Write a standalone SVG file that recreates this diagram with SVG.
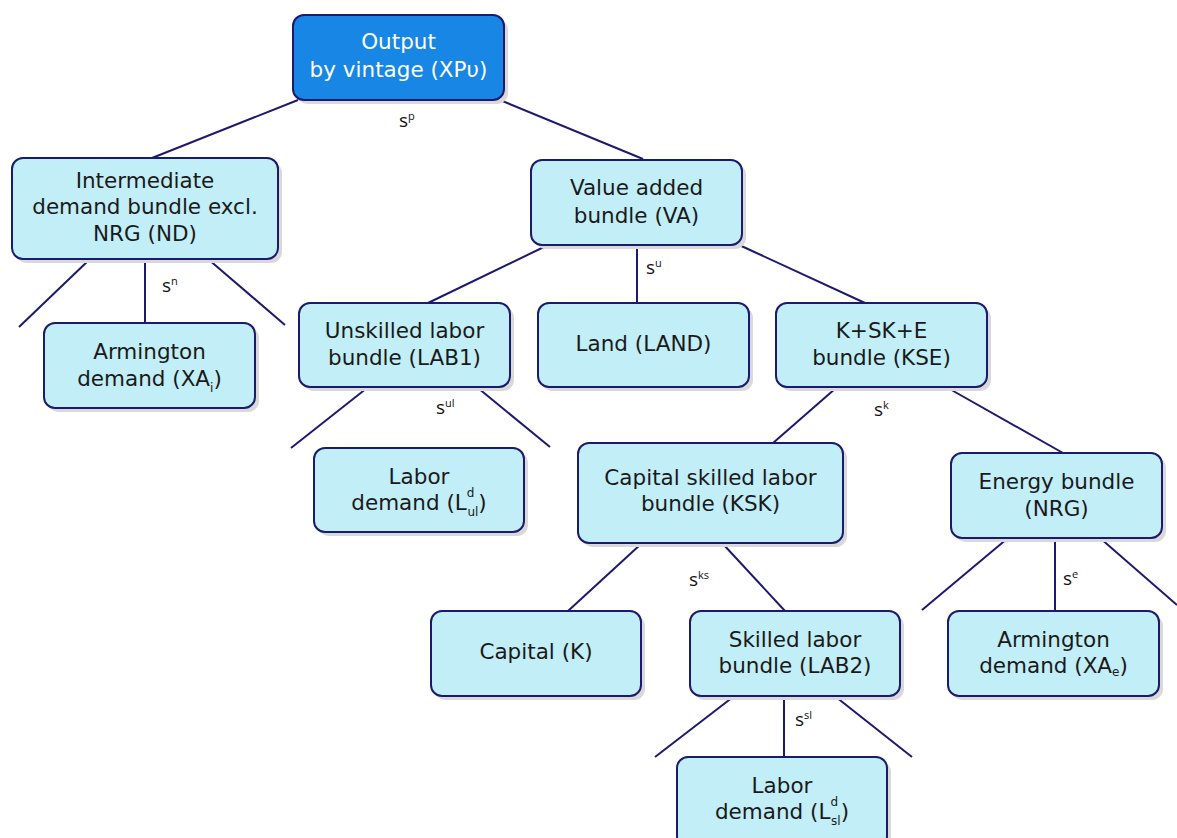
<svg xmlns="http://www.w3.org/2000/svg" width="1177" height="838" viewBox="0 0 1177 838">
<defs>
<style>
.box{fill:#c2eef7;stroke:#1c1a6e;stroke-width:2}
.top{fill:#1786e4;stroke:#1c1a6e;stroke-width:2}
.sh{fill:#d9d9d9}
.t{font-family:"DejaVu Sans",sans-serif;font-size:21.5px;fill:#1a1a1a;text-anchor:middle}
.tw{font-family:"DejaVu Sans",sans-serif;font-size:21.5px;fill:#ffffff;text-anchor:middle}
.sub{font-size:12px}
.s{font-family:"Open Sans","Noto Sans",sans-serif;font-size:19px;fill:#111}
.sup{font-size:11px}
.c line{stroke:#1c1a6e;stroke-width:2}
</style>
</defs>
<rect width="1177" height="838" fill="#ffffff"/>
<g class="c" id="connectors">
<line x1="298" y1="100" x2="152" y2="158"/>
<line x1="500" y1="100" x2="643" y2="159"/>
<line x1="90" y1="259" x2="19" y2="327"/>
<line x1="145" y1="259" x2="145" y2="323"/>
<line x1="208" y1="259" x2="285" y2="325"/>
<line x1="546" y1="246" x2="428" y2="303"/>
<line x1="637" y1="246" x2="637" y2="303"/>
<line x1="737" y1="244" x2="865" y2="303"/>
<line x1="367" y1="388" x2="291" y2="448"/>
<line x1="478" y1="388" x2="550" y2="447"/>
<line x1="836" y1="388" x2="773" y2="443"/>
<line x1="948" y1="388" x2="1063" y2="453"/>
<line x1="641" y1="544" x2="568" y2="611"/>
<line x1="723" y1="544" x2="785" y2="611"/>
<line x1="1008" y1="538" x2="922" y2="610"/>
<line x1="1055" y1="538" x2="1055" y2="611"/>
<line x1="1100" y1="538" x2="1177" y2="605"/>
<line x1="733" y1="697" x2="655" y2="757"/>
<line x1="784" y1="697" x2="784" y2="757"/>
<line x1="836" y1="697" x2="912" y2="757"/>
</g>
<g id="labels">
<text class="s" x="399" y="127">s<tspan class="sup" dy="-7">p</tspan></text>
<text class="s" x="162" y="292">s<tspan class="sup" dy="-7">n</tspan></text>
<text class="s" x="646" y="274">s<tspan class="sup" dy="-7">u</tspan></text>
<text class="s" x="436" y="414">s<tspan class="sup" dy="-7">ul</tspan></text>
<text class="s" x="874" y="416">s<tspan class="sup" dy="-7">k</tspan></text>
<text class="s" x="689" y="586">s<tspan class="sup" dy="-7">ks</tspan></text>
<text class="s" x="1063" y="585">s<tspan class="sup" dy="-7">e</tspan></text>
<text class="s" x="795" y="726">s<tspan class="sup" dy="-7">sl</tspan></text>
</g>
<g id="n-output">
<rect class="sh" x="297" y="19" width="211" height="85" rx="11"/>
<rect class="top" x="293" y="15" width="211" height="85" rx="11"/>
<text class="tw" x="398.5" y="49">Output</text>
<text class="tw" x="398.5" y="77">by vintage (XPυ)</text>
</g>
<g id="n-nd">
<rect class="sh" x="16" y="162" width="266" height="101" rx="11"/>
<rect class="box" x="12" y="158" width="266" height="101" rx="11"/>
<text class="t" x="145" y="188">Intermediate</text>
<text class="t" x="145" y="214">demand bundle excl.</text>
<text class="t" x="145" y="241">NRG (ND)</text>
</g>
<g id="n-va">
<rect class="sh" x="535" y="164" width="211" height="85" rx="11"/>
<rect class="box" x="531" y="160" width="211" height="85" rx="11"/>
<text class="t" x="636.5" y="195">Value added</text>
<text class="t" x="636.5" y="223">bundle (VA)</text>
</g>
<g id="n-xai">
<rect class="sh" x="48" y="327" width="211" height="85" rx="11"/>
<rect class="box" x="44" y="323" width="211" height="85" rx="11"/>
<text class="t" x="149.5" y="359">Armington</text>
<text class="t" x="149.5" y="386">demand (XA<tspan class="sub" dy="6">i</tspan><tspan dy="-6">)</tspan></text>
</g>
<g id="n-lab1">
<rect class="sh" x="303" y="307" width="211" height="84" rx="11"/>
<rect class="box" x="299" y="303" width="211" height="84" rx="11"/>
<text class="t" x="404.5" y="338">Unskilled labor</text>
<text class="t" x="404.5" y="365">bundle (LAB1)</text>
</g>
<g id="n-land">
<rect class="sh" x="542" y="307" width="211" height="84" rx="11"/>
<rect class="box" x="538" y="303" width="211" height="84" rx="11"/>
<text class="t" x="643.5" y="351">Land (LAND)</text>
</g>
<g id="n-kse">
<rect class="sh" x="780" y="307" width="211" height="84" rx="11"/>
<rect class="box" x="776" y="303" width="211" height="84" rx="11"/>
<text class="t" x="881.5" y="338">K+SK+E</text>
<text class="t" x="881.5" y="365">bundle (KSE)</text>
</g>
<g id="n-lul">
<rect class="sh" x="318" y="452" width="210" height="84" rx="11"/>
<rect class="box" x="314" y="448" width="210" height="84" rx="11"/>
<text class="t" x="419" y="484">Labor</text>
<text class="t" x="419" y="510">demand (L<tspan class="sub" dy="-13">d</tspan><tspan class="sub" dx="-7" dy="19">ul</tspan><tspan dy="-6">)</tspan></text>
</g>
<g id="n-ksk">
<rect class="sh" x="582" y="447" width="265" height="100" rx="11"/>
<rect class="box" x="578" y="443" width="265" height="100" rx="11"/>
<text class="t" x="710.5" y="485">Capital skilled labor</text>
<text class="t" x="710.5" y="511">bundle (KSK)</text>
</g>
<g id="n-nrg">
<rect class="sh" x="955" y="457" width="211" height="85" rx="11"/>
<rect class="box" x="951" y="453" width="211" height="85" rx="11"/>
<text class="t" x="1056.5" y="489">Energy bundle</text>
<text class="t" x="1056.5" y="516">(NRG)</text>
</g>
<g id="n-capital">
<rect class="sh" x="435" y="615" width="210" height="85" rx="11"/>
<rect class="box" x="431" y="611" width="210" height="85" rx="11"/>
<text class="t" x="536" y="659">Capital (K)</text>
</g>
<g id="n-lab2">
<rect class="sh" x="694" y="615" width="210" height="85" rx="11"/>
<rect class="box" x="690" y="611" width="210" height="85" rx="11"/>
<text class="t" x="795" y="647">Skilled labor</text>
<text class="t" x="795" y="673">bundle (LAB2)</text>
</g>
<g id="n-xae">
<rect class="sh" x="952" y="615" width="211" height="85" rx="11"/>
<rect class="box" x="948" y="611" width="211" height="85" rx="11"/>
<text class="t" x="1053.5" y="647">Armington</text>
<text class="t" x="1053.5" y="673">demand (XA<tspan class="sub" dy="3">e</tspan><tspan dy="-3">)</tspan></text>
</g>
<g id="n-lsl">
<rect class="sh" x="681" y="761" width="210" height="90" rx="11"/>
<rect class="box" x="677" y="757" width="210" height="90" rx="11"/>
<text class="t" x="782" y="793">Labor</text>
<text class="t" x="782" y="819">demand (L<tspan class="sub" dy="-13">d</tspan><tspan class="sub" dx="-7" dy="19">sl</tspan><tspan dy="-6">)</tspan></text>
</g>
</svg>
